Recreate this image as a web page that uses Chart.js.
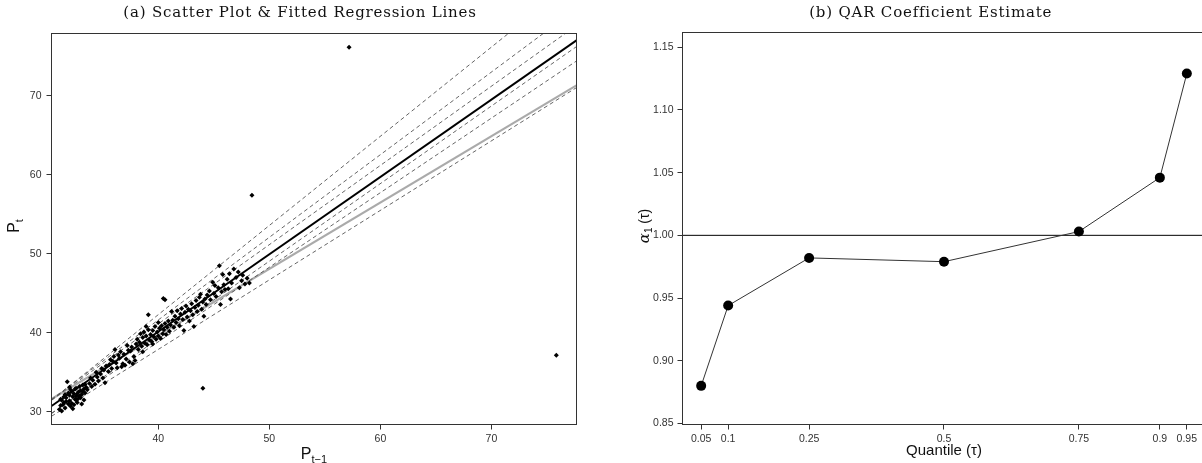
<!DOCTYPE html>
<html>
<head>
<meta charset="utf-8">
<script src="https://cdn.jsdelivr.net/npm/chart.js@4.4.1/dist/chart.umd.min.js"></script>
<style>
  html, body { margin: 0; padding: 0; background: #fff; overflow: hidden; width: 1202px; height: 463px; }
  canvas { position: absolute; top: 0; }
  #left { left: 0; }
  #right { left: 601px; }
</style>
</head>
<body>
<canvas id="left" width="601" height="463"></canvas>
<canvas id="right" width="611" height="463"></canvas>
<script>
// ---------- Data ----------
// Panel (a): scatter of P_{t-1} (x) vs P_t (y)
const prevPrice = [
  31.1,31.2,31.3,31.4,31.5,31.6,31.7,31.8,31.9,32.0,32.0,32.1,32.2,32.3,32.3,32.4,32.5,32.6,32.6,32.7,
  32.8,32.9,33.0,33.0,33.1,33.2,33.3,33.3,33.4,31.5,31.9,32.2,32.5,32.8,31.3,31.7,32.1,32.4,32.7,33.1,
  33.5,31.2,32.0,32.9,33.2,31.6,32.6,33.4,
  33.6,33.8,34.0,34.1,34.3,34.5,34.6,34.8,35.0,35.1,35.2,33.9,34.4,34.9,
  35.3,35.5,35.6,35.8,35.9,36.0,36.1,36.2,36.3,36.5,36.6,36.8,36.9,37.0,37.1,37.3,37.4,37.5,37.6,37.8,
  37.9,38.0,36.4,37.2,35.7,37.7,36.7,
  38.1,38.2,38.3,38.4,38.5,38.6,38.7,38.8,38.9,39.0,39.1,39.1,39.2,39.3,39.4,39.5,39.6,39.7,39.8,39.9,
  40.0,40.1,40.2,40.3,40.4,40.45,40.6,40.5,40.6,40.7,40.8,40.9,41.0,38.6,39.5,40.0,38.9,
  41.1,41.2,41.3,41.4,41.5,41.6,41.7,41.8,41.9,42.0,42.1,42.2,42.3,42.4,42.5,42.6,42.7,42.8,42.9,43.0,
  43.1,43.2,43.3,43.4,43.5,43.6,43.7,43.8,43.9,44.0,44.1,44.2,44.3,44.4,44.01,
  44.6,44.7,44.9,45.0,45.1,45.2,45.4,45.5,45.6,45.7,45.8,45.9,46.0,46.2,46.3,46.5,46.6,46.8,47.0,47.2,
  47.3,47.5,47.6,47.8,48.0,48.2,46.4,
  48.43,57.18,75.84
];
const price = [
  30.3,30.8,31.5,30.9,31.2,30.5,31.8,33.8,31.0,32.1,31.4,30.7,32.6,30.4,31.9,32.3,31.6,33.0,32.0,31.2,
  32.5,33.2,31.8,32.7,32.2,33.4,31.5,32.9,32.4,31.9,32.4,31.1,32.9,31.7,30.1,31.3,32.8,30.9,32.3,31.0,
  33.1,31.6,33.1,32.0,32.6,32.2,31.5,33.5,
  32.8,33.6,33.2,34.0,33.5,34.4,33.9,34.8,34.3,35.3,33.7,34.3,35.0,35.5,
  35.8,35.1,36.0,35.5,36.4,37.0,37.9,36.2,35.6,36.8,37.6,36.1,37.3,35.9,36.7,37.8,36.3,37.7,38.2,37.0,
  36.5,38.6,37.2,38.4,36.6,36.1,35.7,
  39.2,37.9,38.8,39.9,38.3,39.4,40.1,38.7,39.6,38.5,42.3,40.4,39.1,39.8,38.9,40.3,39.5,40.8,39.2,40.1,
  39.6,40.6,39.3,40.9,39.9,44.35,44.2,40.4,41.2,39.8,40.7,41.5,40.2,37.6,38.6,41.3,40.8,
  41.0,42.7,41.6,40.7,42.1,41.3,42.8,41.8,40.9,42.4,43.1,41.7,40.3,42.6,43.4,42.0,43.0,41.5,42.8,43.7,
  42.3,40.8,43.2,44.1,42.7,43.5,44.5,44.9,43.0,43.9,42.1,44.3,43.6,44.8,33.0,
  45.3,44.2,46.4,45.0,46.0,44.6,45.7,48.5,43.6,45.2,47.4,46.1,45.5,46.8,45.6,44.3,46.3,48.1,47.0,47.7,
  45.7,46.6,47.3,46.2,46.9,46.3,47.5,
  57.43,76.16,37.18
];
// Fitted regression lines in panel (a): intercepts and slopes
const quantiles    = [0.05, 0.1, 0.25, 0.5, 0.75, 0.9, 0.95];
const qarIntercept = [2.71, 1.11, -0.02, 1.00, 1.02, -0.20, -2.85];
const qarSlope     = [0.880, 0.944, 0.982, 0.979, 1.003, 1.046, 1.129];
const olsIntercept = 6.10;
const olsSlope     = 0.840;
// Panel (b): QAR coefficient estimates alpha_1(tau)
const alphaHat     = [0.880, 0.944, 0.982, 0.979, 1.003, 1.046, 1.129];
const refLevel     = 1.00;
// Tick labels
const xTicksA = [40, 50, 60, 70];
const yTicksA = [30, 40, 50, 60, 70];
const xTicksB = quantiles;
const yTicksB = [0.85, 0.90, 0.95, 1.00, 1.05, 1.10, 1.15];

// ---------- Styling / layout ----------
const TICK_FONT = { family: "'Liberation Sans', Arial, sans-serif", size: 10.5 };
const TICK_COLOR = '#333';
const AXIS_SANS = "'Liberation Sans', Arial, sans-serif";
const TITLE_FONT = "15px 'DejaVu Serif', serif";
const A_XMIN = 30.38, A_XMAX = 77.66, A_YMIN = 28.4, A_YMAX = 77.9;
const B_XMIN = 0.0154, B_XMAX = 0.9846, B_YMIN = 0.8492, B_YMAX = 1.1617;

function drawRuns(ctx, runs, cx, cy, rot) {
  ctx.save();
  ctx.translate(cx, cy);
  ctx.rotate(rot || 0);
  ctx.textAlign = 'left';
  ctx.textBaseline = 'alphabetic';
  ctx.fillStyle = '#111';
  let w = 0;
  runs.forEach(r => { ctx.font = r.font; r.w = ctx.measureText(r.t).width; w += r.w; });
  let x = -w / 2;
  runs.forEach(r => { ctx.font = r.font; ctx.fillText(r.t, x, r.dy || 0); x += r.w; });
  ctx.restore();
}

function drawTitle(ctx, text, cx, baseline) {
  ctx.save();
  ctx.fillStyle = '#111';
  ctx.font = TITLE_FONT;
  if ('letterSpacing' in ctx) ctx.letterSpacing = '0.8px';
  ctx.textAlign = 'center';
  ctx.textBaseline = 'alphabetic';
  ctx.fillText(text, cx, baseline);
  ctx.restore();
}

const deco = {
  id: 'deco',
  afterDraw(chart, args, opts) {
    const ctx = chart.ctx, a = chart.chartArea;
    ctx.save();
    ctx.strokeStyle = '#333';
    ctx.lineWidth = 1;
    ctx.strokeRect(a.left, a.top, a.right - a.left, a.bottom - a.top);
    ctx.restore();
    if (opts.draw) opts.draw(ctx, chart);
  }
};

function axisCfg(min, max, ticksArr, fmt, isX, size, pad) {
  return {
    type: 'linear', min, max,
    afterBuildTicks: s => { s.ticks = ticksArr.map(v => ({ value: v })); },
    afterFit: s => { if (isX) s.height = size; else s.width = size; },
    ticks: { font: TICK_FONT, color: TICK_COLOR, padding: pad, autoSkip: false, maxRotation: 0, callback: fmt },
    grid: { display: true, drawOnChartArea: false, drawTicks: true, tickLength: 5, color: '#333', lineWidth: 1 },
    border: { display: false }
  };
}

// ---------- Panel (a) ----------
function lineData(a, b) {
  return [{ x: A_XMIN, y: a + b * A_XMIN }, { x: A_XMAX, y: a + b * A_XMAX }];
}
const dsA = [{
  data: prevPrice.map((x, i) => ({ x, y: price[i] })),
  pointStyle: 'rectRot', pointRadius: 2.5, backgroundColor: '#000', borderColor: '#000', borderWidth: 0
}];
quantiles.forEach((q, i) => {
  const median = q === 0.5;
  dsA.push({
    type: 'line', showLine: true, pointRadius: 0,
    data: lineData(qarIntercept[i], qarSlope[i]),
    borderColor: median ? '#000' : '#555',
    borderWidth: median ? 2 : 0.9,
    borderDash: median ? [] : [4, 3]
  });
});
dsA.push({
  type: 'line', showLine: true, pointRadius: 0,
  data: lineData(olsIntercept, olsSlope),
  borderColor: '#aaa', borderWidth: 2.2
});

new Chart(document.getElementById('left'), {
  type: 'scatter',
  data: { datasets: dsA },
  options: {
    responsive: false, animation: false, devicePixelRatio: 1, events: [],
    layout: { padding: { top: 33.5, right: 24.5, left: 0, bottom: 0 } },
    plugins: {
      legend: { display: false }, tooltip: { enabled: false }, title: { display: false },
      deco: {
        draw(ctx) {
          drawTitle(ctx, '(a) Scatter Plot & Fitted Regression Lines', 300, 17);
          drawRuns(ctx, [
            { t: 'P', font: `16px ${AXIS_SANS}` },
            { t: 't\u22121', font: `11px ${AXIS_SANS}`, dy: 4 }
          ], 314, 459, 0);
          drawRuns(ctx, [
            { t: 'P', font: `16px ${AXIS_SANS}` },
            { t: 't', font: `11px ${AXIS_SANS}`, dy: 4 }
          ], 18.5, 226, -Math.PI / 2);
        }
      }
    },
    scales: {
      x: axisCfg(A_XMIN, A_XMAX, xTicksA, v => String(v), true, 38.5, 3),
      y: axisCfg(A_YMIN, A_YMAX, yTicksA, v => String(v), false, 51.5, 5)
    }
  },
  plugins: [deco]
});

// ---------- Panel (b) ----------
new Chart(document.getElementById('right'), {
  type: 'scatter',
  data: {
    datasets: [
      {
        data: quantiles.map((q, i) => ({ x: q, y: alphaHat[i] })),
        showLine: true, borderColor: '#333', borderWidth: 1,
        pointRadius: 5, pointBackgroundColor: '#000', pointBorderColor: '#000', pointBorderWidth: 0
      },
      {
        type: 'line', showLine: true, pointRadius: 0,
        data: [{ x: B_XMIN, y: refLevel }, { x: B_XMAX, y: refLevel }],
        borderColor: '#000', borderWidth: 1
      }
    ]
  },
  options: {
    responsive: false, animation: false, devicePixelRatio: 1, events: [],
    layout: { padding: { top: 32.5, right: 6.5, left: 0, bottom: 0 } },
    plugins: {
      legend: { display: false }, tooltip: { enabled: false }, title: { display: false },
      deco: {
        draw(ctx) {
          drawTitle(ctx, '(b) QAR Coefficient Estimate', 329.7, 17);
          drawRuns(ctx, [{ t: 'Quantile (\u03c4)', font: `15px ${AXIS_SANS}` }], 343, 455, 0);
          drawRuns(ctx, [
            { t: '\u03b1', font: `italic 15px 'DejaVu Serif', serif` },
            { t: '1', font: `10px ${AXIS_SANS}`, dy: 3 },
            { t: ' (\u03c4)', font: `14px ${AXIS_SANS}` }
          ], 47.5, 226, -Math.PI / 2);
        }
      }
    },
    scales: {
      x: axisCfg(B_XMIN, B_XMAX, xTicksB, v => String(v), true, 38.5, 3),
      y: axisCfg(B_YMIN, B_YMAX, yTicksB, v => Number(v).toFixed(2), false, 81.5, 4)
    }
  },
  plugins: [deco]
});
</script>
</body>
</html>
